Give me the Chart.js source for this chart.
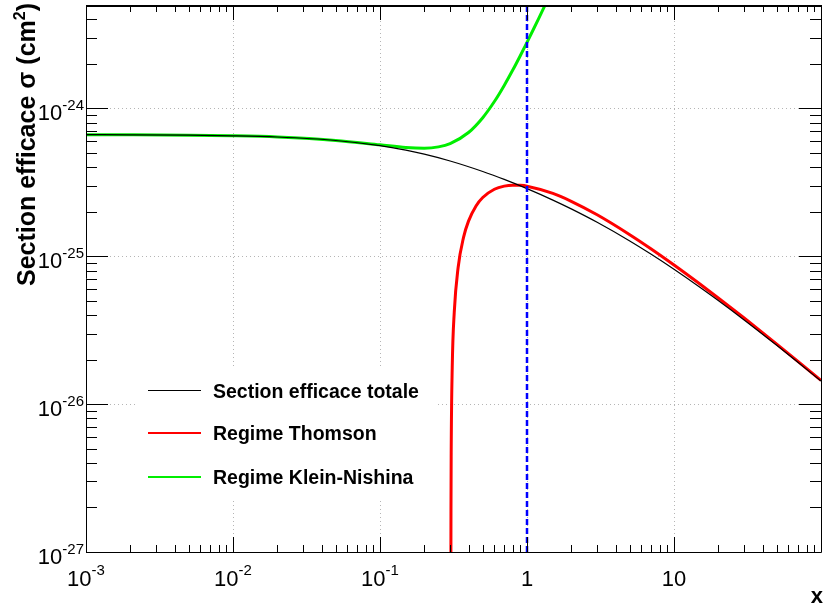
<!DOCTYPE html>
<html><head><meta charset="utf-8">
<script src="https://cdn.jsdelivr.net/npm/chart.js@4.4.0/dist/chart.umd.min.js"></script>
<style>html,body{margin:0;padding:0;background:#fff;}#wrap{width:827px;height:612px;position:relative;}</style>
</head><body><div id="wrap"><canvas id="c" width="827" height="612"></canvas></div>
<script>
// ---- data ----
const totalX = [0.001,0.002,0.005,0.01,0.02,0.05,0.1,0.15,0.2,0.3,0.5,0.7,1,1.5,2,3,5,7,10,15,20,30,50,70,100];
const totalY = [6.639e-25,6.626e-25,6.587e-25,6.523e-25,6.400e-25,6.064e-25,5.597e-25,5.217e-25,4.902e-25,4.408e-25,3.744e-25,3.308e-25,2.865e-25,2.397e-25,2.090e-25,1.696e-25,1.269e-25,1.031e-25,8.166e-26,6.173e-26,5.018e-26,3.710e-26,2.498e-26,1.911e-26,1.431e-26];
const thomsonX = [0.3035,0.304,0.305,0.31,0.32,0.34,0.37,0.4,0.45,0.5,0.6,0.7,0.8,0.9,1,1.5,2,3,5,7,10,15,20,30,50,70,100];
const thomsonY = [6.36e-28,1.986e-27,4.666e-27,1.768e-26,4.187e-26,8.389e-26,1.341e-25,1.727e-25,2.188e-25,2.495e-25,2.837e-25,2.981e-25,3.025e-25,3.015e-25,2.977e-25,2.659e-25,2.353e-25,1.906e-25,1.398e-25,1.119e-25,8.721e-26,6.488e-26,5.225e-26,3.820e-26,2.547e-26,1.939e-26,1.447e-26];
const kleinX = [0.001,0.002,0.005,0.01,0.02,0.05,0.1,0.15,0.2,0.25,0.3,0.4,0.5,0.6,0.7,0.8,0.9,1,1.1,1.2,1.3,1.4];
const kleinY = [6.639e-25,6.626e-25,6.587e-25,6.523e-25,6.400e-25,6.074e-25,5.668e-25,5.435e-25,5.375e-25,5.488e-25,5.774e-25,6.865e-25,8.648e-25,1.112e-24,1.429e-24,1.815e-24,2.270e-24,2.794e-24,3.387e-24,4.050e-24,4.782e-24,5.583e-24];
const markerX = [1,1];
const markerY = [1e-27,5e-24];
const seriesNames = ['Section efficace totale','Regime Thomson','Regime Klein-Nishina'];
const xTickValues = [1e-3,1e-2,1e-1,1,10];
const xTickLabels = [['10','-3'],['10','-2'],['10','-1'],['1',''],['10','']];
const yTickValues = [1e-27,1e-26,1e-25,1e-24];
const yTickLabels = [['10','-27'],['10','-26'],['10','-25'],['10','-24']];
const xRange = [1e-3,100];
const yRange = [1e-27,5e-24];
const yTitle = 'Section efficace \u03C3 (cm';
const xTitle = 'x';

const pts = (xs, ys) => xs.map((x,i)=>({x:x,y:ys[i]}));
const FONT = '"Liberation Sans", Arial, sans-serif';
const isMajor = v => { const l = Math.log10(v); return Math.abs(l - Math.round(l)) < 1e-6; };

const decor = {
  id: 'decor',
  beforeDatasetsDraw(chart) {
    const ctx = chart.ctx;
    ctx.save(); ctx.fillStyle = '#fff'; ctx.fillRect(135, 366, 300, 134); ctx.restore();
  },
  afterDraw(chart) {
    const ctx = chart.ctx, a = chart.chartArea, xs = chart.scales.x, ys = chart.scales.y;
    ctx.save();
    ctx.strokeStyle = '#000';
    // frame
    ctx.lineWidth = 1;
    ctx.beginPath();
    ctx.moveTo(a.left + 0.5, a.top); ctx.lineTo(a.left + 0.5, a.bottom + 0.5);
    ctx.lineTo(a.right + 0.5, a.bottom + 0.5); ctx.lineTo(a.right + 0.5, a.top);
    ctx.stroke();
    ctx.lineWidth = 2;
    ctx.beginPath(); ctx.moveTo(a.left, a.top + 1); ctx.lineTo(a.right + 1, a.top + 1); ctx.stroke();
    ctx.lineWidth = 1;
    // x ticks
    ctx.beginPath();
    for (let d = -3; d <= 1; d++) {
      for (let m = 1; m <= 9; m++) {
        const v = m * Math.pow(10, d);
        if (v < xRange[0] || v > xRange[1]) continue;
        const px = Math.round(xs.getPixelForValue(v)) + 0.5;
        const len = m === 1 ? 15 : 7;
        ctx.moveTo(px, a.bottom); ctx.lineTo(px, a.bottom - len);
        ctx.moveTo(px, a.top); ctx.lineTo(px, a.top + len);
      }
    }
    // y ticks
    for (let d = -27; d <= -24; d++) {
      for (let m = 1; m <= 9; m++) {
        const v = m * Math.pow(10, d);
        if (v < yRange[0] * 0.999 || v > yRange[1] * 1.001) continue;
        const py = Math.round(ys.getPixelForValue(v)) + 0.5;
        const len = m === 1 ? 22 : 11;
        ctx.moveTo(a.left, py); ctx.lineTo(a.left + len, py);
        ctx.moveTo(a.right, py); ctx.lineTo(a.right - len, py);
      }
    }
    ctx.stroke();
    // tick labels
    ctx.fillStyle = '#000';
    ctx.textBaseline = 'alphabetic';
    const big = '22px ' + FONT, small = '15px ' + FONT;
    xTickValues.forEach((v, i) => {
      const [b, s] = xTickLabels[i];
      ctx.font = big; const wb = ctx.measureText(b).width;
      ctx.font = small; const ws = s ? ctx.measureText(s).width : 0;
      const px = xs.getPixelForValue(v);
      const x0 = px - (wb + ws) / 2;
      ctx.font = big; ctx.textAlign = 'left'; ctx.fillText(b, x0, 586);
      if (s) { ctx.font = small; ctx.fillText(s, x0 + wb, 575); }
    });
    yTickValues.forEach((v, i) => {
      const [b, s] = yTickLabels[i];
      const py = ys.getPixelForValue(v);
      ctx.font = small; const ws = ctx.measureText(s).width;
      ctx.textAlign = 'left';
      const xr = a.left - 2;
      ctx.fillText(s, xr - ws, py + 2);
      ctx.font = big; const wb = ctx.measureText(b).width;
      ctx.fillText(b, xr - ws - wb, py + 12);
    });
    // axis titles
    ctx.font = 'bold 22px ' + FONT;
    ctx.textAlign = 'right';
    ctx.fillText(xTitle, a.right + 2, 603);
    ctx.save();
    ctx.translate(35, 3);
    ctx.rotate(-Math.PI / 2);
    ctx.font = 'bold 25px ' + FONT;
    const w1 = ctx.measureText(yTitle).width;
    ctx.font = 'bold 16px ' + FONT;
    const w2 = ctx.measureText('2').width;
    ctx.font = 'bold 25px ' + FONT;
    const w3 = ctx.measureText(')').width;
    const total = w1 + w2 + w3;
    ctx.textAlign = 'left';
    ctx.fillText(yTitle, -total, 0);
    ctx.font = 'bold 16px ' + FONT;
    ctx.fillText('2', -total + w1, -10);
    ctx.font = 'bold 25px ' + FONT;
    ctx.fillText(')', -total + w1 + w2, 0);
    ctx.restore();
    // legend
    const colors = ['#000000', '#ff0000', '#00ee00'];
    const widths = [1, 2, 2];
    const ly = [390.5, 433, 477];
    ctx.font = 'bold 19.5px ' + FONT;
    ctx.textAlign = 'left';
    seriesNames.forEach((n, i) => {
      ctx.strokeStyle = colors[i]; ctx.lineWidth = widths[i];
      ctx.beginPath(); ctx.moveTo(148, ly[i]); ctx.lineTo(201, ly[i]); ctx.stroke();
      ctx.fillStyle = '#000';
      ctx.fillText(n, 213, ly[i] + 7);
    });
    ctx.restore();
  }
};

const gridColor = (ctx, range) => {
  const t = ctx.tick; if (!t) return 'transparent';
  const v = t.value;
  if (!isMajor(v)) return 'transparent';
  if (Math.abs(Math.log10(v) - Math.log10(range[0])) < 1e-3 || Math.abs(Math.log10(v) - Math.log10(range[1])) < 1e-3) return 'transparent';
  return '#b5b5b5';
};

new Chart(document.getElementById('c'), {
  type: 'line',
  data: {
    datasets: [
      { label: 'x = 1', data: pts(markerX, markerY), borderColor: '#0000ff', borderWidth: 2.5, borderDash: [6, 3], pointRadius: 0, fill: false },
      { label: seriesNames[0], data: pts(totalX, totalY), borderColor: '#000000', borderWidth: 1.2, pointRadius: 0, fill: false, cubicInterpolationMode: 'monotone' },
      { label: seriesNames[1], data: pts(thomsonX, thomsonY), borderColor: '#ff0000', borderWidth: 3, pointRadius: 0, fill: false, cubicInterpolationMode: 'monotone' },
      { label: seriesNames[2], data: pts(kleinX, kleinY), borderColor: '#00ee00', borderWidth: 3, pointRadius: 0, fill: false, cubicInterpolationMode: 'monotone' }
    ]
  },
  options: {
    responsive: false, animation: false, devicePixelRatio: 1,
    layout: { padding: { left: 86, right: 6, top: 5, bottom: 60 } },
    plugins: { legend: { display: false }, tooltip: { enabled: false } },
    scales: {
      x: { type: 'logarithmic', min: xRange[0], max: xRange[1],
           ticks: { display: false }, border: { display: false, dash: [1, 3] },
           grid: { drawTicks: false, color: c => gridColor(c, xRange), lineWidth: 1 } },
      y: { type: 'logarithmic', min: yRange[0], max: yRange[1],
           ticks: { display: false }, border: { display: false, dash: [1, 3] },
           grid: { drawTicks: false, color: c => gridColor(c, yRange), lineWidth: 1 } }
    }
  },
  plugins: [decor]
});
</script>
</body></html>
